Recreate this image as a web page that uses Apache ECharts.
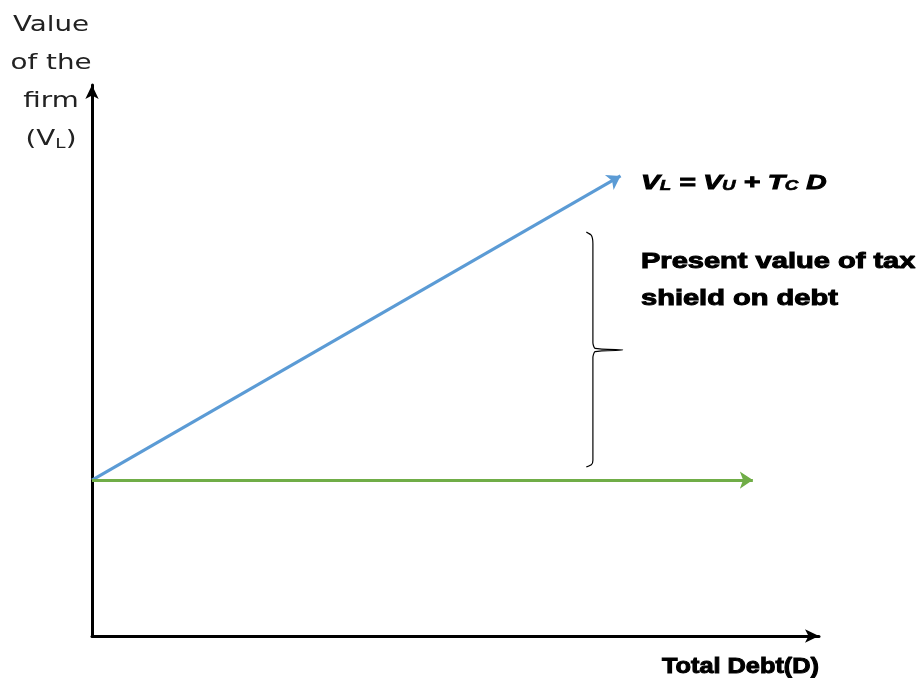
<!DOCTYPE html>
<html>
<head>
<meta charset="utf-8">
<script src="https://cdn.jsdelivr.net/npm/echarts@6/dist/echarts.min.js"></script>
<style>
  html, body { margin: 0; padding: 0; background: #fff; }
  #main { width: 924px; height: 678px; }
</style>
</head>
<body>
<div id="main"></div>
<script>
// debt axis runs 0..100, firm value axis runs 0..100 (no tick labels shown)
var xRange = [0, 100]
var yRange = [0, 100]

// V_L = V_U + T_C D  (levered firm)
var leveredLine = [[0, 28.3], [72.7, 83.5]]
// V_U (unlevered firm, flat)
var unleveredLine = [[0, 28.3], [90.9, 28.3]]

// curly brace marking the tax shield gap
var braceX = [68.0, 68.7, 68.9, 68.9, 69.2, 73.0, 69.2, 68.9, 68.9, 68.7, 68.0]
var braceY = [73.3, 72.7, 71.2, 53.2, 52.2, 51.9, 51.6, 50.6, 31.9, 31.1, 30.7]

var braceData = braceX.map(function (x, i) { return [x, braceY[i]] })

var myChart = echarts.init(document.getElementById('main'))
myChart.setOption({
    animation: false,
    backgroundColor: '#ffffff',
    graphic: [
        {
            type: 'text',
            x: 51, y: 7, scaleX: 1.32,
            style: {
                text: 'Value\nof the\nfirm\n{t|(V}{s|L}{t|)}',
                align: 'center',
                verticalAlign: 'top',
                fontFamily: 'DejaVu Sans',
                fontSize: 21,
                lineHeight: 38,
                fill: '#222',
                rich: {
                    t: { fontFamily: 'DejaVu Sans', fontSize: 21, fill: '#222', lineHeight: 38 },
                    s: { fontFamily: 'DejaVu Sans', fontSize: 14, fill: '#222', lineHeight: 38, padding: [8, 0, 0, 0] }
                }
            }
        },
        {
            type: 'text',
            x: 641, y: 183, scaleX: 1.34,
            style: {
                text: '{b|V}{s|L}{b| = V}{s|U}{b| + T}{s|C}{b| D}',
                align: 'left',
                verticalAlign: 'middle',
                rich: {
                    b: { fontFamily: 'Liberation Sans', fontSize: 21, fontWeight: 'bold', fontStyle: 'italic', fill: '#000', stroke: '#000', lineWidth: 1, lineHeight: 26 },
                    s: { fontFamily: 'Liberation Sans', fontSize: 14, fontWeight: 'bold', fontStyle: 'italic', fill: '#000', stroke: '#000', lineWidth: 0.6, lineHeight: 26, padding: [7, 0, 0, 0] }
                }
            }
        },
        {
            type: 'text',
            x: 641, y: 243, scaleX: 1.32,
            style: {
                text: 'Present value of tax\nshield on debt',
                align: 'left',
                verticalAlign: 'top',
                fontFamily: 'Liberation Sans',
                fontWeight: 'bold',
                fontSize: 22,
                lineHeight: 37,
                fill: '#000',
                stroke: '#000',
                lineWidth: 1
            }
        },
        {
            type: 'text',
            x: 662, y: 667, scaleX: 1.15,
            style: {
                text: 'Total Debt(D)',
                align: 'left',
                verticalAlign: 'middle',
                fontFamily: 'Liberation Sans',
                fontWeight: 'bold',
                fontSize: 22,
                fill: '#000',
                stroke: '#000',
                lineWidth: 1
            }
        }
    ],
    grid: { left: 92, right: 105, top: 85, bottom: 42 },
    xAxis: {
        type: 'value',
        min: xRange[0],
        max: xRange[1],
        splitLine: { show: false },
        axisTick: { show: false },
        axisLabel: { show: false },
        axisLine: {
            show: true,
            symbol: ['none', 'arrow'],
            symbolSize: [10, 14],
            lineStyle: { color: '#000', width: 3 }
        }
    },
    yAxis: {
        type: 'value',
        min: yRange[0],
        max: yRange[1],
        splitLine: { show: false },
        axisTick: { show: false },
        axisLabel: { show: false },
        axisLine: {
            show: true,
            symbol: ['none', 'arrow'],
            symbolSize: [10, 14],
            lineStyle: { color: '#000', width: 3 }
        }
    },
    series: [
        {
            type: 'lines',
            coordinateSystem: 'cartesian2d',
            symbol: ['none', 'arrow'],
            symbolSize: 13,
            lineStyle: { color: '#5B9BD5', width: 3.2, opacity: 1 },
            data: [{ coords: leveredLine }]
        },
        {
            type: 'lines',
            coordinateSystem: 'cartesian2d',
            symbol: ['none', 'arrow'],
            symbolSize: 13,
            lineStyle: { color: '#70AD47', width: 3.2, opacity: 1 },
            data: [{ coords: unleveredLine }]
        },
        {
            type: 'line',
            data: braceData,
            showSymbol: false,
            smooth: 0.2,
            lineStyle: { color: '#000', width: 1.2 },
            z: 1
        }
    ]
})
</script>
</body>
</html>
